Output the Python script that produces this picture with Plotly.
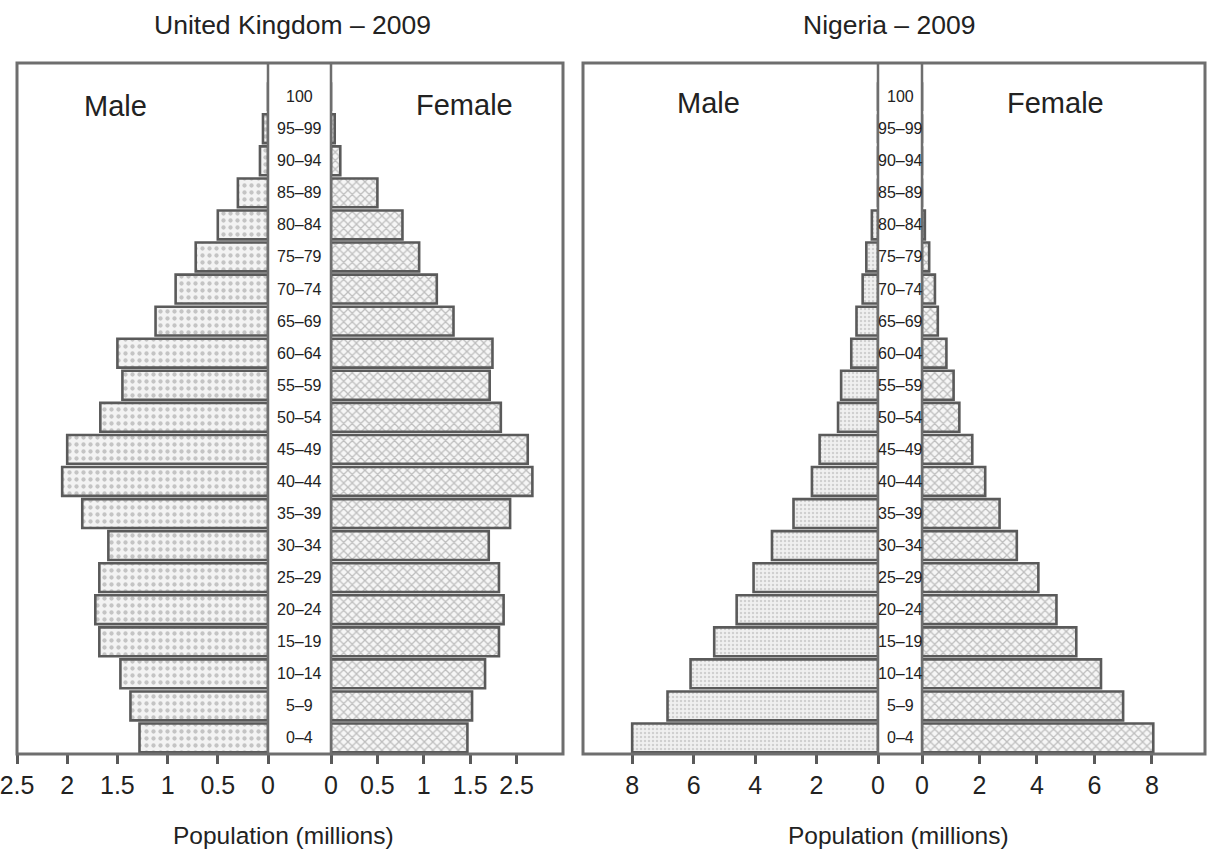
import plotly.graph_objects as go

# ---------------- data ----------------
ages = ["0–4", "5–9", "10–14", "15–19", "20–24", "25–29", "30–34", "35–39",
        "40–44", "45–49", "50–54", "55–59", "60–64", "65–69", "70–74",
        "75–79", "80–84", "85–89", "90–94", "95–99", "100"]
uk_labels = ages
ng_labels = ["0–4", "5–9", "10–14", "15–19", "20–24", "25–29", "30–34", "35–39",
             "40–44", "45–49", "50–54", "55–59", "60–04", "65–69", "70–74",
             "75–79", "80–84", "85–89", "90–94", "95–99", "100"]

uk_male = [1.28, 1.37, 1.47, 1.68, 1.72, 1.68, 1.59, 1.85, 2.05, 2.00, 1.67,
           1.45, 1.50, 1.12, 0.92, 0.72, 0.50, 0.30, 0.08, 0.05, 0.0]
uk_female = [1.47, 1.52, 1.66, 1.81, 1.86, 1.81, 1.70, 1.93, 2.17, 2.12, 1.83,
             1.71, 1.74, 1.32, 1.14, 0.95, 0.77, 0.50, 0.10, 0.04, 0.0]

ng_male = [8.0, 6.85, 6.1, 5.33, 4.6, 4.05, 3.45, 2.75, 2.15, 1.9, 1.3,
           1.2, 0.87, 0.7, 0.5, 0.38, 0.2, 0.0, 0.0, 0.0, 0.0]
ng_female = [8.05, 7.0, 6.23, 5.37, 4.68, 4.05, 3.3, 2.7, 2.2, 1.75, 1.3,
             1.1, 0.85, 0.55, 0.45, 0.25, 0.1, 0.0, 0.0, 0.0, 0.0]

uk_male_ticks = [0, 0.5, 1, 1.5, 2, 2.5]
uk_male_ticktext = ["0", "0.5", "1", "1.5", "2", "2.5"]
uk_female_ticks = [0, 0.5, 1, 1.5, 2]
uk_female_ticktext = ["0", "0.5", "1", "1.5", "2.5"]
ng_ticks = [0, 2, 4, 6, 8]
ng_ticktext = ["0", "2", "4", "6", "8"]

titles = ["United Kingdom – 2009", "Nigeria – 2009"]
xlabel = "Population (millions)"

# ---------------- layout helpers ----------------
W, H = 1208, 852
def px(x):
    return x / W
def py(y):
    return 1 - y / H

TOP, BOT = 63, 754
ydom = [py(BOT), py(TOP)]
FONT = "Liberation Sans, Arial, Helvetica, sans-serif"
TXT = "#222222"
EDGE = "#5a5a5a"
FRAME = "#6e6e6e"

male_style = dict(color="#f3f3f3",
                  line=dict(color=EDGE, width=2.6),
                  pattern=dict(shape=".", fgcolor="#969696", bgcolor="#f3f3f3",
                               size=7, solidity=0.3))
female_style = dict(color="#f6f6f6",
                    line=dict(color=EDGE, width=2.6),
                    pattern=dict(shape="x", fgcolor="#858585", bgcolor="#f6f6f6",
                                 size=6, solidity=0.38))
ng_male_style = dict(color="#eeeeee",
                     line=dict(color=EDGE, width=2.6),
                     pattern=dict(shape=".", fgcolor="#b0b0b0", bgcolor="#f0f0f0",
                                  size=4, solidity=0.3))

fig = go.Figure()
fig.add_trace(go.Bar(x=uk_male, y=ages, orientation="h", marker=male_style,
                     xaxis="x", yaxis="y", showlegend=False))
fig.add_trace(go.Bar(x=uk_female, y=ages, orientation="h", marker=female_style,
                     xaxis="x2", yaxis="y2", showlegend=False))
fig.add_trace(go.Bar(x=ng_male, y=ages, orientation="h", marker=ng_male_style,
                     xaxis="x3", yaxis="y3", showlegend=False))
fig.add_trace(go.Bar(x=ng_female, y=ages, orientation="h", marker=female_style,
                     xaxis="x4", yaxis="y4", showlegend=False))

# panel geometry (pixels)
uk_m = (17, 268); uk_f = (331, 563)
ng_m = (583, 878); ng_f = (922, 1205)

def xax(dom, rng, tv, tt):
    return dict(domain=[px(dom[0]), px(dom[1])], range=rng, showgrid=False,
                zeroline=False, showline=False, ticks="outside", ticklen=9,
                tickwidth=2.5, tickcolor=EDGE, tickvals=tv, ticktext=tt,
                automargin=False, ticklabeloverflow="allow",
                tickfont=dict(family=FONT, size=25, color=TXT), fixedrange=True)

def yax(anchor):
    return dict(domain=ydom, type="category", categoryorder="array",
                categoryarray=ages, range=[-0.5, 21.05], showticklabels=False,
                showgrid=False, zeroline=False, showline=False, ticks="",
                automargin=False, anchor=anchor, fixedrange=True)

layout = dict(
    width=W, height=H, margin=dict(l=0, r=0, t=0, b=0, pad=0),
    paper_bgcolor="white", plot_bgcolor="rgba(0,0,0,0)",
    barmode="overlay", bargap=0.1,
    xaxis=xax(uk_m, [2.5, 0], uk_male_ticks, uk_male_ticktext),
    xaxis2=xax(uk_f, [0, 2.5], uk_female_ticks, uk_female_ticktext),
    xaxis3=xax(ng_m, [9.6, 0], ng_ticks, ng_ticktext),
    xaxis4=xax(ng_f, [0, 9.85], ng_ticks, ng_ticktext),
    yaxis=yax("x"), yaxis2=yax("x2"), yaxis3=yax("x3"), yaxis4=yax("x4"),
)
for k, a in (("xaxis", "y"), ("xaxis2", "y2"), ("xaxis3", "y3"), ("xaxis4", "y4")):
    layout[k]["anchor"] = a
fig.update_layout(**layout)

# frames and centre-column lines
shapes = []
for (l, r) in ((uk_m[0], uk_f[1]), (ng_m[0], ng_f[1])):
    shapes.append(dict(type="rect", xref="paper", yref="paper",
                       x0=px(l), x1=px(r), y0=py(BOT), y1=py(TOP),
                       line=dict(color=FRAME, width=3), layer="above"))
for x in (uk_m[1], uk_f[0], ng_m[1], ng_f[0]):
    shapes.append(dict(type="line", xref="paper", yref="paper",
                       x0=px(x), x1=px(x), y0=py(BOT), y1=py(TOP),
                       line=dict(color=FRAME, width=2.5), layer="above"))
fig.update_layout(shapes=shapes)

ann = []
# centre labels (positioned on the category axis by index)
for i, lab in enumerate(uk_labels):
    ann.append(dict(text=lab, x=px((uk_m[1] + uk_f[0]) / 2), xref="paper",
                    y=i, yref="y", showarrow=False, xanchor="center",
                    yanchor="middle",
                    font=dict(family=FONT, size=16, color=TXT)))
for i, lab in enumerate(ng_labels):
    ann.append(dict(text=lab, x=px((ng_m[1] + ng_f[0]) / 2), xref="paper",
                    y=i, yref="y3", showarrow=False, xanchor="center",
                    yanchor="middle",
                    font=dict(family=FONT, size=16, color=TXT)))
# titles, axis titles, sex labels
def lab(t, cx, cy, size):
    return dict(text=t, x=px(cx), y=py(cy), xref="paper", yref="paper",
                xanchor="center", yanchor="middle", showarrow=False,
                font=dict(family=FONT, size=size, color=TXT))

for t, cx in zip(titles, (292, 889)):
    ann.append(lab(t, cx, 25, 26.5))
for cx in (283, 898):
    ann.append(lab(xlabel, cx, 835, 24.5))
for t, cx, cy in (("Male", 115, 106), ("Female", 464, 105),
                  ("Male", 708, 103), ("Female", 1055, 103)):
    ann.append(lab(t, cx, cy, 29))
fig.update_layout(annotations=ann)

fig.write_html("out.html", config={"displayModeBar": False},
               post_script="document.body.style.margin='0';")
